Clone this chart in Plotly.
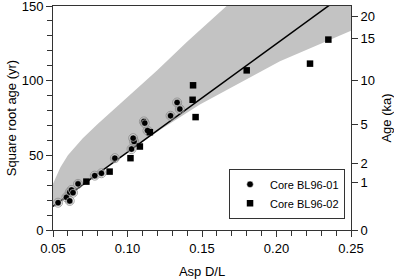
import plotly.graph_objects as go

# ---- data ----
bl01_asp = [0.0534, 0.0590, 0.0612, 0.0624, 0.0612, 0.0634, 0.0668, 0.0780, 0.0825,
            0.0915, 0.1027, 0.1044, 0.1038, 0.1110, 0.1116, 0.1134, 0.1289, 0.1333, 0.1351]
bl01_sqrt_age = [18.3, 21.9, 25.3, 26.8, 19.5, 25.0, 30.9, 36.4, 38.0,
                 48.1, 54.2, 59.3, 61.5, 72.7, 71.6, 66.6, 76.5, 85.4, 81.0]

bl02_asp = [0.0724, 0.0880, 0.1020, 0.1083, 0.1150, 0.1437, 0.1440, 0.1457,
            0.1800, 0.2225, 0.2348]
bl02_sqrt_age = [32.4, 39.1, 48.1, 55.9, 65.5, 87.2, 96.9, 75.6,
                 106.9, 111.4, 127.5]

# regression line (sqrt age = slope * D/L + intercept)
fit_slope = 726.7
fit_intercept = -20.6
fit_asp = [0.05, 0.25]

# shaded envelope
env_upper_asp = [0.05, 0.0525, 0.055, 0.06, 0.065, 0.07, 0.08, 0.10, 0.12, 0.14, 0.1665, 0.25]
env_upper_val = [31.0, 37.0, 42.0, 50.0, 56.0, 61.5, 71.0, 89.0, 107.0, 126.0, 150.0, 150.0]
env_lower_asp = [0.25, 0.2023, 0.1486, 0.1217, 0.10, 0.05]
env_lower_val = [133.5, 113.0, 84.0, 67.0, 52.0, 15.7]

x_ticks = [0.05, 0.10, 0.15, 0.20, 0.25]
x_tick_text = ["0.05", "0.10", "0.15", "0.20", "0.25"]
y_ticks = [0, 50, 100, 150]
age_tick_text = ["0", "1", "2", "5", "10", "15", "20"]
age_tick_sqrt_yr = [0, 31.6, 44.7, 70.7, 100.0, 128.0, 143.0]

FONT = "Liberation Sans, Arial, sans-serif"
AX = "#333333"

fig = go.Figure()

fig.add_trace(go.Scatter(
    x=env_upper_asp + env_lower_asp, y=env_upper_val + env_lower_val,
    fill="toself", fillcolor="#c3c3c3", line=dict(width=0),
    mode="lines", hoverinfo="skip", showlegend=False))

fig.add_trace(go.Scatter(
    x=fit_asp, y=[fit_slope * a + fit_intercept for a in fit_asp],
    mode="lines", line=dict(color="black", width=1.5), showlegend=False))

fig.add_trace(go.Scatter(
    x=bl01_asp, y=bl01_sqrt_age, mode="markers",
    marker=dict(symbol="circle-open", size=9, color="#8a8a8a", line=dict(width=0.8)),
    showlegend=False, hoverinfo="skip"))
fig.add_trace(go.Scatter(
    x=bl01_asp, y=bl01_sqrt_age, mode="markers", name="Core BL96-01",
    marker=dict(symbol="circle", size=6.5, color="black",
                line=dict(color="white", width=0.5))))

fig.add_trace(go.Scatter(
    x=bl02_asp, y=bl02_sqrt_age, mode="markers", name="Core BL96-02",
    marker=dict(symbol="square", size=6.5, color="black")))

fig.add_trace(go.Scatter(x=[0.05], y=[0], yaxis="y2", mode="markers",
                         marker=dict(opacity=0), showlegend=False, hoverinfo="skip"))

fig.update_layout(
    width=394, height=279,
    margin=dict(l=53, r=43, t=6, b=49, autoexpand=False),
    paper_bgcolor="white", plot_bgcolor="white",
    font=dict(family=FONT, size=12, color="black"),
    showlegend=True,
    legend=dict(x=0.98, y=0.05, xanchor="right", yanchor="bottom",
                bgcolor="white", bordercolor=AX, borderwidth=1,
                font=dict(size=11), tracegroupgap=0, itemwidth=30,
                itemsizing="trace"),
    xaxis=dict(range=[0.05, 0.25], tickvals=x_ticks, ticktext=x_tick_text,
               automargin=False,
               showgrid=False, zeroline=False, showline=True, linecolor=AX,
               linewidth=1, mirror=True, ticks="outside", ticklen=6, tickcolor=AX,
               minor=dict(dtick=0.01, tick0=0.05, ticks="outside", ticklen=5, tickcolor=AX),
               title=dict(text="Asp D/L", standoff=12, font=dict(size=13)),
               tickfont=dict(size=13)),
    yaxis=dict(range=[0, 150], tickvals=y_ticks, automargin=False,
               ticklabeloverflow="allow",
               showgrid=False, zeroline=False, showline=True, linecolor=AX,
               linewidth=1, ticks="outside", ticklen=6, tickcolor=AX,
               minor=dict(dtick=10, tick0=0, ticks="outside", ticklen=5, tickcolor=AX),
               title=dict(text="Square root age (yr)", standoff=2, font=dict(size=13)),
               tickfont=dict(size=13)),
    yaxis2=dict(range=[0, 150], overlaying="y", side="right", anchor="x",
                automargin=False, ticklabeloverflow="allow",
                tickvals=age_tick_sqrt_yr, ticktext=age_tick_text,
                showgrid=False, zeroline=False, showline=True, linecolor=AX,
                linewidth=1, ticks="outside", ticklen=6, tickcolor=AX,
                title=dict(text="Age (ka)", standoff=12, font=dict(size=13)),
                tickfont=dict(size=13)),
)

fig.write_html("out.html", config={"displayModeBar": False},
               post_script="document.body.style.margin='0px';document.body.style.overflow='hidden';")
